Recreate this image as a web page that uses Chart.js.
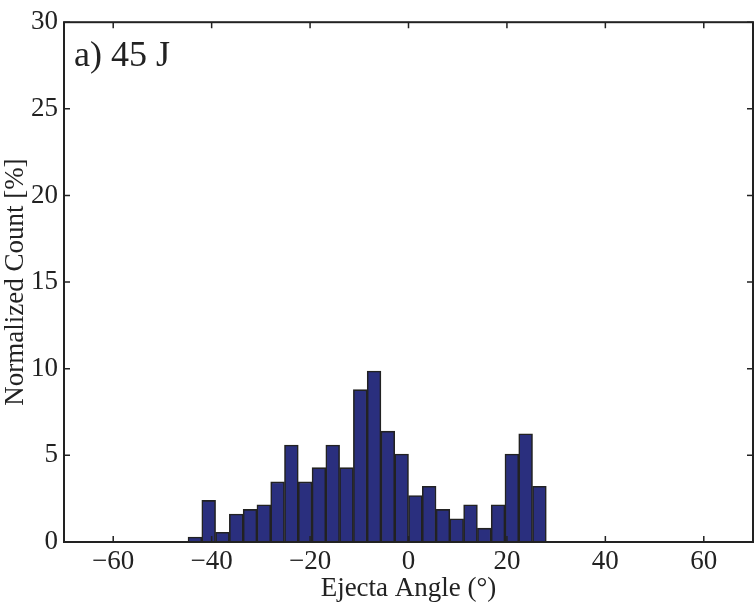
<!DOCTYPE html>
<html>
<head>
<meta charset="utf-8">
<script src="https://cdn.jsdelivr.net/npm/chart.js@4.4.0/dist/chart.umd.min.js"></script>
<style>
    html, body { margin: 0; padding: 0; background: #fff; }
    #wrap { width: 754px; height: 605px; }
</style>
</head>
<body>
<div id="wrap"><canvas id="histChart"></canvas></div>
<script>
// Bin centres (2.8 deg wide bins) and normalized counts [%]
const binCenters = [-43.4, -40.6, -37.8, -35.0, -32.2, -29.4, -26.6, -23.8, -21.0, -18.2, -15.4, -12.6, -9.8,
    -7.0, -4.2, -1.4, 1.4, 4.2, 7.0, 9.8, 12.6, 15.4, 18.2, 21.0, 23.8, 26.6];
const counts = [0.29, 2.40, 0.56, 1.61, 1.88, 2.15, 3.47, 5.60, 3.47, 4.29, 5.60, 4.29, 8.79,
    9.87, 6.40, 5.08, 2.68, 3.22, 1.88, 1.34, 2.15, 0.80, 2.15, 5.08, 6.25, 3.22];
const xTicks = [-60, -40, -20, 0, 20, 40, 60];
const yTicks = [0, 5, 10, 15, 20, 25, 30];
const panelLabel = 'a) 45 J';

const serif = '"Liberation Serif", "Times New Roman", serif';

// draws the box and inward tick marks on all four sides, plus the panel label
const framePlugin = {
    id: 'frame',
    afterDraw(chart) {
        const { ctx, chartArea: a, scales: { x, y } } = chart;
        const len = 6;
        ctx.save();
        ctx.strokeStyle = '#222';
        ctx.lineWidth = 1.5;
        ctx.beginPath();
        xTicks.forEach(v => {
            const px = x.getPixelForValue(v);
            ctx.moveTo(px, a.bottom); ctx.lineTo(px, a.bottom - len);
            ctx.moveTo(px, a.top); ctx.lineTo(px, a.top + len);
        });
        yTicks.forEach(v => {
            const py = y.getPixelForValue(v);
            ctx.moveTo(a.left, py); ctx.lineTo(a.left + len, py);
            ctx.moveTo(a.right, py); ctx.lineTo(a.right - len, py);
        });
        ctx.stroke();
        ctx.lineWidth = 2;
        ctx.strokeRect(a.left, a.top, a.right - a.left, a.bottom - a.top);

        ctx.fillStyle = '#222';
        ctx.font = '36px ' + serif;
        ctx.textBaseline = 'alphabetic';
        ctx.fillText(panelLabel, a.left + 10, a.top + 44);
        ctx.restore();
    }
};

new Chart(document.getElementById('histChart'), {
    type: 'bar',
    data: {
        datasets: [{
            data: binCenters.map((c, i) => ({ x: c, y: counts[i] })),
            backgroundColor: '#2a2f7e',
            borderColor: '#222',
            borderWidth: 1.6,
            barPercentage: 1,
            categoryPercentage: 1
        }]
    },
    options: {
        responsive: true,
        maintainAspectRatio: false,
        animation: false,
        layout: { padding: { top: 20, right: 1, left: 0, bottom: 0 } },
        plugins: { legend: { display: false }, tooltip: { enabled: false } },
        scales: {
            x: {
                type: 'linear',
                min: -70,
                max: 70,
                offset: false,
                afterBuildTicks: s => { s.ticks = xTicks.map(v => ({ value: v })); },
                afterFit: s => { s.height = 63; },
                grid: { display: false, drawTicks: false },
                border: { display: false },
                ticks: {
                    color: '#222',
                    font: { family: serif, size: 27 },
                    padding: 4,
                    maxRotation: 0,
                    callback: v => String(v).replace('-', '\u2212')
                },
                title: {
                    display: true,
                    text: 'Ejecta Angle (°)',
                    color: '#222',
                    font: { family: serif, size: 27 },
                    padding: { top: 0, bottom: 0 }
                }
            },
            y: {
                min: 0,
                max: 30,
                afterBuildTicks: s => { s.ticks = yTicks.map(v => ({ value: v })); },
                afterFit: s => { s.width = 64; },
                grid: { display: false, drawTicks: false },
                border: { display: false },
                ticks: {
                    color: '#222',
                    font: { family: serif, size: 27 },
                    padding: 6
                },
                title: {
                    display: true,
                    text: 'Normalized Count [%]',
                    color: '#222',
                    font: { family: serif, size: 27 },
                    padding: { top: 0, bottom: 0 }
                }
            }
        }
    },
    plugins: [framePlugin]
});
</script>
</body>
</html>
